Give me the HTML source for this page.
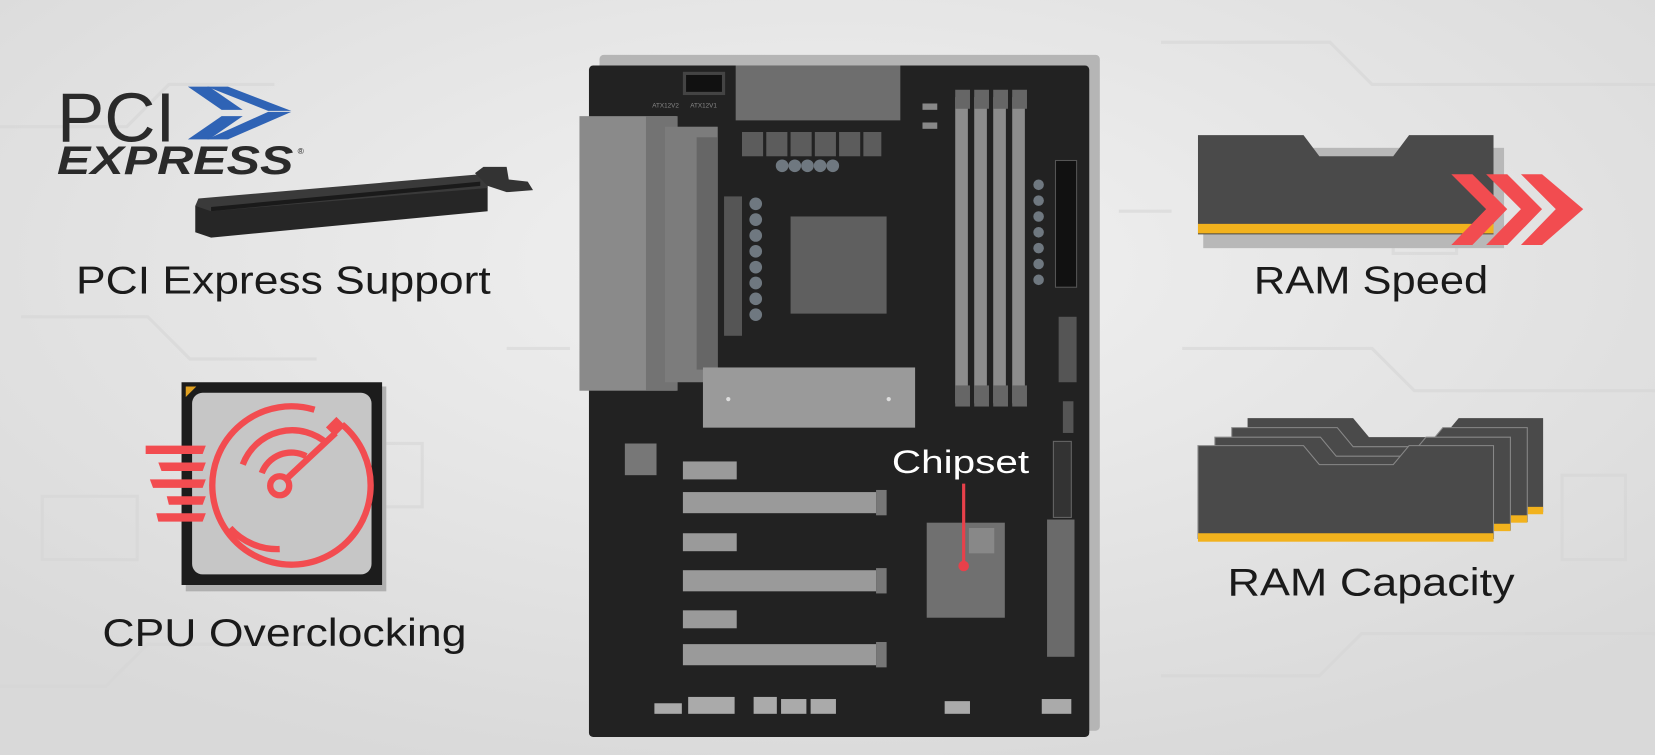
<!DOCTYPE html>
<html><head><meta charset="utf-8"><style>
html,body{margin:0;padding:0;width:1655px;height:755px;overflow:hidden;background:#e4e4e4}
svg{display:block}
text{font-family:"Liberation Sans",sans-serif}
</style></head><body>
<svg width="1655" height="755" viewBox="0 0 1568 715" preserveAspectRatio="none" xmlns="http://www.w3.org/2000/svg">
<defs>
<radialGradient id="bg" cx="0.5" cy="0.35" r="0.7">
<stop offset="0" stop-color="#f2f2f2"/><stop offset="1" stop-color="#d9d9d9"/>
</radialGradient>
</defs>
<rect width="1568" height="715" fill="url(#bg)"/>
<g stroke="#d6d6d6" stroke-width="3" fill="none" opacity="0.6">
<path d="M0 120 H120 L160 80 H260 M20 300 H140 L180 340 H300 M0 650 H100 L140 610 H300 M1100 40 H1260 L1300 80 H1568 M1120 330 H1300 L1340 370 H1568 M1100 640 H1250 L1290 600 H1568 M480 330 H540 M1060 200 H1110"/>
<rect x="1320" y="180" width="60" height="60"/><rect x="320" y="420" width="80" height="60"/><rect x="40" y="470" width="90" height="60"/><rect x="1480" y="450" width="60" height="80"/>
</g>
<!-- motherboard -->
<rect x="568" y="52" width="474" height="640" rx="4" fill="#b5b5b5"/>
<rect x="558" y="62" width="474" height="636" rx="4" fill="#222"/>
<rect x="697" y="62" width="156" height="52" fill="#6e6e6e"/>
<rect x="647" y="68" width="40" height="22" fill="#444"/><rect x="650" y="71" width="34" height="16" fill="#111"/>
<text x="618" y="102" font-size="6" fill="#888">ATX12V2</text><text x="654" y="102" font-size="6" fill="#888">ATX12V1</text>
<rect x="549" y="110" width="92" height="260" fill="#8a8a8a"/><rect x="612" y="110" width="30" height="260" fill="#737373"/>
<rect x="630" y="120" width="50" height="242" fill="#7c7c7c"/><rect x="660" y="130" width="20" height="220" fill="#666"/>
<g fill="#5c5c5c"><rect x="703" y="125" width="20" height="23"/><rect x="726" y="125" width="20" height="23"/><rect x="749" y="125" width="20" height="23"/><rect x="772" y="125" width="20" height="23"/><rect x="795" y="125" width="20" height="23"/><rect x="818" y="125" width="17" height="23"/></g>
<g fill="#6f7880"><circle cx="741" cy="157" r="6"/><circle cx="753" cy="157" r="6"/><circle cx="765" cy="157" r="6"/><circle cx="777" cy="157" r="6"/><circle cx="789" cy="157" r="6"/>
<circle cx="716" cy="193" r="6"/><circle cx="716" cy="208" r="6"/><circle cx="716" cy="223" r="6"/><circle cx="716" cy="238" r="6"/><circle cx="716" cy="253" r="6"/><circle cx="716" cy="268" r="6"/><circle cx="716" cy="283" r="6"/><circle cx="716" cy="298" r="6"/>
<circle cx="984" cy="175" r="5"/><circle cx="984" cy="190" r="5"/><circle cx="984" cy="205" r="5"/><circle cx="984" cy="220" r="5"/><circle cx="984" cy="235" r="5"/><circle cx="984" cy="250" r="5"/><circle cx="984" cy="265" r="5"/></g>
<rect x="686" y="186" width="17" height="132" fill="#555"/>
<rect x="749" y="205" width="91" height="92" fill="#5f5f5f"/>
<g fill="#8c8c8c"><rect x="905" y="92" width="12" height="290"/><rect x="923" y="92" width="12" height="290"/><rect x="941" y="92" width="12" height="290"/><rect x="959" y="92" width="12" height="290"/></g>
<g fill="#666"><rect x="905" y="85" width="14" height="18"/><rect x="923" y="85" width="14" height="18"/><rect x="941" y="85" width="14" height="18"/><rect x="959" y="85" width="14" height="18"/>
<rect x="905" y="365" width="14" height="20"/><rect x="923" y="365" width="14" height="20"/><rect x="941" y="365" width="14" height="20"/><rect x="959" y="365" width="14" height="20"/></g>
<rect x="874" y="98" width="14" height="6" fill="#888"/><rect x="874" y="116" width="14" height="6" fill="#888"/>
<rect x="1000" y="152" width="20" height="120" fill="#111" stroke="#555"/>
<rect x="1003" y="300" width="17" height="62" fill="#555"/>
<rect x="666" y="348" width="201" height="57" fill="#9a9a9a"/>
<circle cx="690" cy="378" r="2" fill="#ddd"/><circle cx="842" cy="378" r="2" fill="#ddd"/>
<rect x="1007" y="380" width="10" height="30" fill="#555"/>
<rect x="592" y="420" width="30" height="30" fill="#777"/>
<g fill="#9a9a9a"><rect x="647" y="437" width="51" height="17"/><rect x="647" y="505" width="51" height="17"/><rect x="647" y="578" width="51" height="17"/>
<rect x="647" y="466" width="183" height="20"/><rect x="647" y="540" width="183" height="20"/><rect x="647" y="610" width="183" height="20"/></g>
<g fill="#777"><rect x="830" y="464" width="10" height="24"/><rect x="830" y="538" width="10" height="24"/><rect x="830" y="608" width="10" height="24"/></g>
<rect x="998" y="418" width="17" height="72" fill="#333" stroke="#666"/>
<rect x="992" y="492" width="26" height="130" fill="#6a6a6a"/>
<rect x="878" y="495" width="74" height="90" fill="#707070"/>
<rect x="918" y="500" width="24" height="24" fill="#888"/>
<line x1="913" y1="458" x2="913" y2="535" stroke="#e8404a" stroke-width="3"/><circle cx="913" cy="536" r="5" fill="#e8404a"/>
<text x="845" y="448" font-size="31" fill="#fff" textLength="130" lengthAdjust="spacingAndGlyphs">Chipset</text>
<g fill="#aaa"><rect x="620" y="666" width="26" height="10"/><rect x="652" y="660" width="44" height="16"/><rect x="714" y="660" width="22" height="16"/><rect x="740" y="662" width="24" height="14"/><rect x="768" y="662" width="24" height="14"/><rect x="895" y="664" width="24" height="12"/><rect x="987" y="662" width="28" height="14"/></g>
<!-- PCI logo -->
<text x="54" y="134" font-size="66" fill="#2a2a2a" textLength="112" lengthAdjust="spacingAndGlyphs">PCI</text>
<g fill="#2f63b5"><polygon points="178,82 198,82 230,104 210,104"/><polygon points="196,82 216,82 276,105 254,105"/><polygon points="178,132 198,132 230,110 210,110"/><polygon points="196,132 216,132 276,106 254,106"/></g>
<text x="54" y="165" font-size="38" font-weight="bold" font-style="italic" fill="#2a2a2a" textLength="224" lengthAdjust="spacingAndGlyphs">EXPRESS</text>
<text x="282" y="146" font-size="8" fill="#2a2a2a">®</text>
<!-- PCIe slot -->
<polygon points="185,195 462,172 462,200 200,225 185,220" fill="#262626"/>
<polygon points="185,195 200,200 462,178 462,172 455,165 188,188" fill="#3a3a3a"/>
<polygon points="200,196 455,172 455,176 200,200" fill="#1a1a1a"/>
<polygon points="450,164 458,158 480,158 482,170 500,172 505,180 480,182 462,176" fill="#333"/>
<text x="72" y="278" font-size="37" fill="#1a1a1a" textLength="393" lengthAdjust="spacingAndGlyphs">PCI Express Support</text>
<!-- CPU icon -->
<rect x="176" y="366" width="190" height="194" fill="#b0b0b0"/>
<rect x="172" y="362" width="190" height="192" fill="#1c1c1c"/>
<polygon points="176,366 186,366 176,376" fill="#e0a020"/>
<rect x="182" y="372" width="170" height="172" rx="10" fill="#c6c6c6"/>
<g fill="none" stroke="#f24c50" stroke-width="6">
<path d="M324 402 A75 75 0 1 1 298 388"/>
<path d="M230 440 A50 50 0 0 1 310 420"/>
<path d="M248 448 A30 30 0 0 1 290 432"/>
<path d="M218 500 A60 60 0 0 0 265 520"/>
<circle cx="265" cy="460" r="9"/>
<line x1="272" y1="453" x2="318" y2="410"/>
</g>
<rect x="312" y="397" width="12" height="14" fill="#f24c50" transform="rotate(45 318 404)"/>
<g fill="#f24c50"><polygon points="138,422 195,422 192,430 138,430"/><polygon points="150,438 195,438 192,446 153,446"/><polygon points="142,454 195,454 192,462 145,462"/><polygon points="158,470 195,470 192,478 160,478"/><polygon points="148,486 195,486 192,494 150,494"/></g>
<text x="97" y="612" font-size="37" fill="#1a1a1a" textLength="345" lengthAdjust="spacingAndGlyphs">CPU Overclocking</text>
<!-- RAM speed -->
<g>
<rect x="1140" y="140" width="285" height="95" fill="#b8b8b8"/>
<polygon points="1135,128 1235,128 1250,148 1320,148 1335,128 1415,128 1415,222 1135,222" fill="#4a4a4a"/>
<rect x="1135" y="212" width="280" height="9" fill="#f2b21d"/>
<g fill="#f24c50"><polygon points="1375,165 1395,165 1428,198 1395,232 1375,232 1408,198"/><polygon points="1408,165 1428,165 1461,198 1428,232 1408,232 1441,198"/><polygon points="1441,165 1461,165 1500,198 1461,232 1441,232 1474,198"/></g>
</g>
<text x="1188" y="278" font-size="37" fill="#1a1a1a" textLength="222" lengthAdjust="spacingAndGlyphs">RAM Speed</text>
<!-- RAM capacity -->
<g>
<polygon points="1182,396 1282,396 1297,414 1367,414 1382,396 1462,396 1462,485 1182,485" fill="#4a4a4a"/><rect x="1182" y="480" width="280" height="7" fill="#f2b21d"/>
<polygon points="1167,405 1267,405 1282,423 1352,423 1367,405 1447,405 1447,494 1167,494" fill="#4a4a4a" stroke="#888"/><rect x="1167" y="488" width="280" height="7" fill="#f2b21d"/>
<polygon points="1151,414 1251,414 1266,432 1336,432 1351,414 1431,414 1431,502 1151,502" fill="#4a4a4a" stroke="#888"/><rect x="1151" y="496" width="280" height="7" fill="#f2b21d"/>
<polygon points="1135,422 1235,422 1250,440 1320,440 1335,422 1415,422 1415,510 1135,510" fill="#4a4a4a" stroke="#888"/><rect x="1135" y="505" width="280" height="8" fill="#f2b21d"/>
</g>
<text x="1163" y="564" font-size="37" fill="#1a1a1a" textLength="272" lengthAdjust="spacingAndGlyphs">RAM Capacity</text>
</svg>
</body></html>
